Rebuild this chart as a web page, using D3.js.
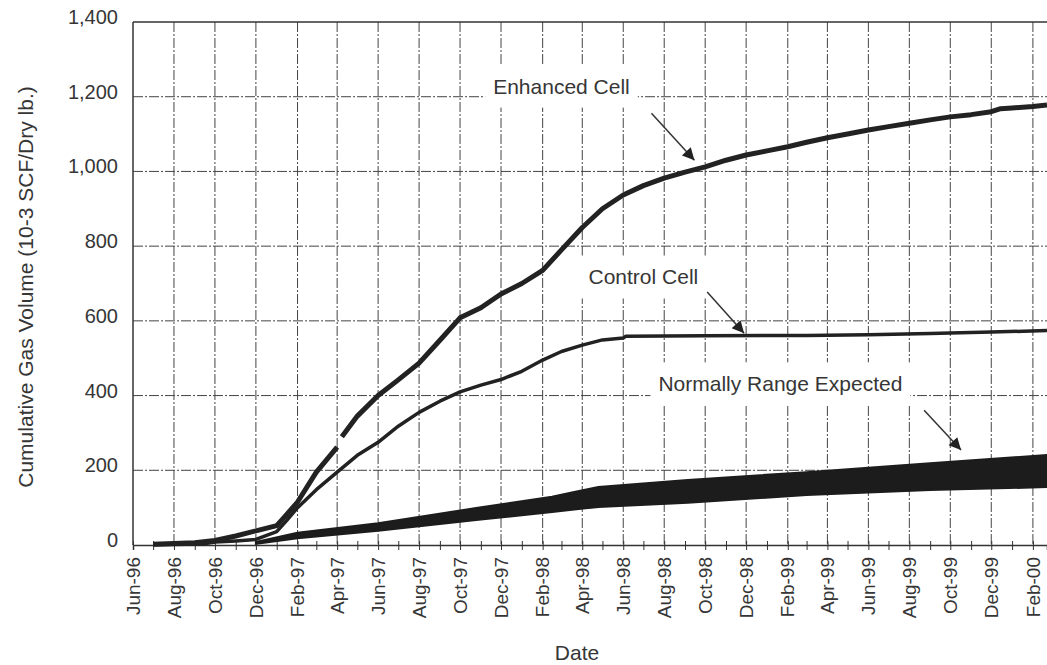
<!DOCTYPE html>
<html>
<head>
<meta charset="utf-8">
<script src="https://cdn.jsdelivr.net/npm/d3@7"></script>
<style>
  body { margin: 0; background: #fff; }
  svg text { font-family: "Liberation Sans", Arial, sans-serif; fill: #363636; }
</style>
</head>
<body>
<div id="chart"></div>
<script>
// values
var enhancedDates = ['1996-07-01', '1996-08-01', '1996-09-01', '1996-10-01', '1996-11-01', '1996-12-01',
    '1997-01-01', '1997-01-16', '1997-02-01', '1997-03-01', '1997-04-01', '1997-04-04', '1997-04-08',
    '1997-05-01', '1997-06-01', '1997-07-01', '1997-08-01', '1997-09-01', '1997-10-01', '1997-11-01',
    '1997-12-01', '1998-01-01', '1998-02-01', '1998-03-01', '1998-04-01', '1998-05-01', '1998-06-01',
    '1998-07-01', '1998-08-01', '1998-09-01', '1998-10-01', '1998-11-01', '1998-12-01', '1999-01-01',
    '1999-02-01', '1999-03-01', '1999-04-01', '1999-05-01', '1999-06-01', '1999-07-01', '1999-08-01',
    '1999-09-01', '1999-10-01', '1999-11-01', '1999-12-01', '1999-12-15', '2000-01-01', '2000-02-01',
    '2000-02-22'];
var enhancedValues = [2, 4, 6, 12, 24, 38,
    52, 82, 115, 195, 262, null, 290,
    345, 400, 442, 487, 548, 608, 635,
    672, 700, 735, 790, 850, 900, 937,
    962, 982, 998, 1012, 1030, 1044, 1055,
    1066, 1078, 1090, 1100, 1111, 1120, 1129,
    1138, 1146, 1152, 1160, 1168, 1170, 1174,
    1178];

var controlDates = ['1996-07-01', '1996-09-15', '1996-10-01', '1996-11-01', '1996-12-01', '1997-01-01',
    '1997-01-16', '1997-02-01', '1997-03-01', '1997-04-01', '1997-05-01', '1997-06-01', '1997-07-01',
    '1997-08-01', '1997-09-01', '1997-10-01', '1997-11-01', '1997-12-01', '1998-01-01', '1998-02-01',
    '1998-03-01', '1998-04-01', '1998-05-01', '1998-06-01', '1998-06-05', '1998-10-01', '1999-03-01',
    '1999-06-01', '1999-09-01', '1999-12-01', '2000-02-22'];
var controlValues = [1, 3, 8, 11, 15, 36,
    66, 100, 148, 195, 240, 275, 318,
    355, 385, 410, 428, 443, 465, 495,
    518, 535, 549, 554, 559, 560, 561,
    563, 566, 570, 574];

var rangeDates = ['1996-12-01', '1997-02-01', '1997-06-01', '1997-10-25', '1998-02-15', '1998-03-20',
    '1998-04-25', '1998-09-05', '1999-03-01', '1999-09-01', '2000-02-22'];
var rangeLow = [3, 18, 38, 67, 88, 95, 102, 113, 134, 147, 155];
var rangeHigh = [8, 33, 58, 99, 129, 142, 155, 174, 195, 219, 241];

var tickLabels = ['Jun-96', 'Aug-96', 'Oct-96', 'Dec-96', 'Feb-97', 'Apr-97', 'Jun-97', 'Aug-97',
    'Oct-97', 'Dec-97', 'Feb-98', 'Apr-98', 'Jun-98', 'Aug-98', 'Oct-98', 'Dec-98', 'Feb-99',
    'Apr-99', 'Jun-99', 'Aug-99', 'Oct-99', 'Dec-99', 'Feb-00'];
var yTicks = [0, 200, 400, 600, 800, 1000, 1200, 1400];

var notes = [
    { text: 'Enhanced Cell', date: '1998-03-01', value: 1228, from: ['1998-07-13', 1156], to: ['1998-09-15', 1030] },
    { text: 'Control Cell', date: '1998-07-01', value: 717, from: ['1998-10-04', 677], to: ['1998-11-28', 567] },
    { text: 'Normally Range Expected', date: '1999-01-21', value: 431, from: ['1999-08-23', 361], to: ['1999-10-17', 254] }
];

var W = 1047, H = 665;
var margin = { top: 22, right: 0, bottom: 120, left: 133 };
var parse = d3.timeParse('%Y-%m-%d');
var parseTick = d3.timeParse('%b-%y');

var svg = d3.select('#chart')
    .append('svg')
    .attr('width', W)
    .attr('height', H);

var x = d3.scaleTime()
    .domain([parse('1996-06-01'), parse('2000-02-22')])
    .range([margin.left, W - margin.right]);
var y = d3.scaleLinear()
    .domain([0, 1400])
    .range([H - margin.bottom, margin.top]);

var tickDates = tickLabels.map(function (t) { return parseTick(t); });

// grid
var grid = svg.append('g');
grid.selectAll('line.v')
    .data(tickDates.slice(1))
    .enter().append('line')
    .attr('x1', function (d) { return x(d); })
    .attr('x2', function (d) { return x(d); })
    .attr('y1', y(1400))
    .attr('y2', y(0))
    .attr('stroke', '#444')
    .attr('stroke-width', 1)
    .attr('stroke-dasharray', '10,2,2,2');
grid.selectAll('line.h')
    .data(yTicks.slice(1, -1))
    .enter().append('line')
    .attr('x1', x.range()[0])
    .attr('x2', x.range()[1])
    .attr('y1', function (d) { return y(d); })
    .attr('y2', function (d) { return y(d); })
    .attr('stroke', '#444')
    .attr('stroke-width', 1)
    .attr('stroke-dasharray', '10,2,2,2');

// frame
svg.append('line')
    .attr('x1', x.range()[0]).attr('x2', x.range()[1])
    .attr('y1', y(1400)).attr('y2', y(1400))
    .attr('stroke', '#333').attr('stroke-width', 1.5);
svg.append('line')
    .attr('x1', x.range()[0]).attr('x2', x.range()[0])
    .attr('y1', y(1400)).attr('y2', y(0))
    .attr('stroke', '#333').attr('stroke-width', 1.5);

// x axis: month ticks, labels every 2 months
var xAxis = d3.axisBottom(x)
    .ticks(d3.timeMonth.every(1))
    .tickSize(5)
    .tickFormat('');
var xg = svg.append('g')
    .attr('transform', 'translate(0,' + y(0) + ')')
    .call(xAxis);
xg.select('.domain').attr('stroke', '#333').attr('stroke-width', 1.5);
xg.selectAll('.tick line').attr('stroke', '#333').attr('y1', -4);

svg.append('g').selectAll('text')
    .data(tickDates)
    .enter().append('text')
    .attr('transform', function (d) { return 'translate(' + x(d) + ',' + (y(0) + 12) + ') rotate(-90)'; })
    .attr('text-anchor', 'end')
    .attr('dy', '0.35em')
    .style('font-size', '19px')
    .text(function (d, i) { return tickLabels[i]; });

// y axis labels
svg.append('g').selectAll('text')
    .data(yTicks)
    .enter().append('text')
    .attr('x', margin.left - 15)
    .attr('y', function (d) { return y(d) - 5; })
    .attr('text-anchor', 'end')
    .attr('dy', '0.35em')
    .style('font-size', '20px')
    .text(d3.format(','));

svg.append('text')
    .attr('transform', 'translate(26,' + 287 + ') rotate(-90)')
    .attr('text-anchor', 'middle')
    .attr('dy', '0.35em')
    .style('font-size', '21px')
    .text('Cumulative Gas Volume (10-3 SCF/Dry lb.)');

svg.append('text')
    .attr('x', 577)
    .attr('y', 653)
    .attr('text-anchor', 'middle')
    .attr('dy', '0.35em')
    .style('font-size', '21px')
    .text('Date');

// annotations
svg.append('defs').append('marker')
    .attr('id', 'head')
    .attr('viewBox', '0 0 10 10')
    .attr('refX', 10).attr('refY', 5)
    .attr('markerWidth', 16).attr('markerHeight', 12)
    .attr('markerUnits', 'userSpaceOnUse')
    .attr('orient', 'auto')
    .append('path')
    .attr('d', 'M0,0L10,5L0,10z')
    .attr('fill', '#222');

notes.forEach(function (n) {
    var g = svg.append('g');
    var box = g.append('rect').attr('fill', '#fff');
    var t = g.append('text')
        .attr('x', x(parse(n.date)))
        .attr('y', y(n.value))
        .attr('text-anchor', 'middle')
        .attr('dy', '0.35em')
        .style('font-size', '21px')
        .text(n.text);
    var bb = t.node().getBBox();
    box.attr('x', bb.x - 8).attr('y', bb.y - 10)
        .attr('width', bb.width + 16).attr('height', bb.height + 20);
    g.append('line')
        .attr('x1', x(parse(n.from[0]))).attr('y1', y(n.from[1]))
        .attr('x2', x(parse(n.to[0]))).attr('y2', y(n.to[1]))
        .attr('stroke', '#333')
        .attr('stroke-width', 1.5)
        .attr('marker-end', 'url(#head)');
});

// normally expected range band
var rangeData = rangeDates.map(function (d, i) {
    return { date: parse(d), lo: rangeLow[i], hi: rangeHigh[i] };
});
var area = d3.area()
    .x(function (d) { return x(d.date); })
    .y0(function (d) { return y(d.lo); })
    .y1(function (d) { return y(d.hi); });
svg.append('path')
    .attr('d', area(rangeData))
    .attr('fill', '#1c1c1c')
    .attr('stroke', '#1c1c1c')
    .attr('stroke-width', 2);

var line = d3.line()
    .defined(function (d) { return d.v !== null; })
    .x(function (d) { return x(d.date); })
    .y(function (d) { return y(d.v); });

var controlData = controlDates.map(function (d, i) { return { date: parse(d), v: controlValues[i] }; });
var enhancedData = enhancedDates.map(function (d, i) { return { date: parse(d), v: enhancedValues[i] }; });

svg.append('path')
    .attr('d', line(controlData))
    .attr('fill', 'none')
    .attr('stroke', '#222')
    .attr('stroke-width', 3.5)
    .attr('stroke-linejoin', 'round');

svg.append('path')
    .attr('d', line(enhancedData))
    .attr('fill', 'none')
    .attr('stroke', '#222')
    .attr('stroke-width', 5)
    .attr('stroke-linejoin', 'round');
</script>
</body>
</html>
